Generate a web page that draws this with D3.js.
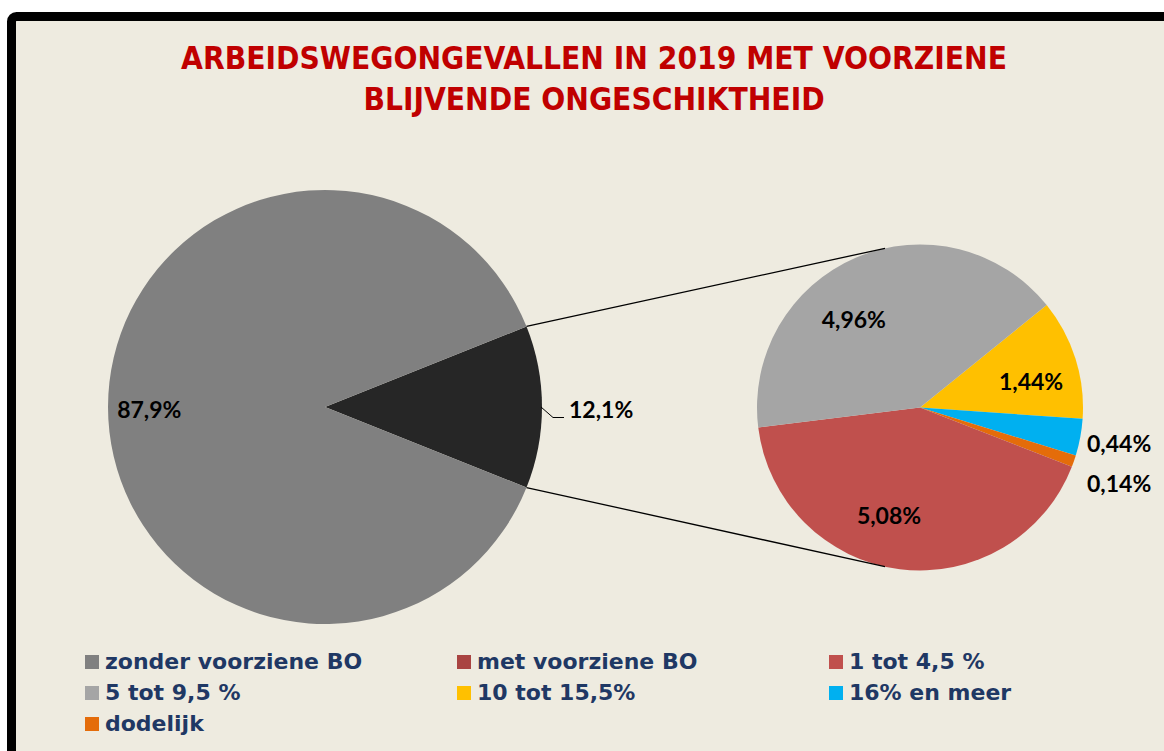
<!DOCTYPE html>
<html>
<head>
<meta charset="utf-8">
<script src="https://cdn.jsdelivr.net/npm/d3@7"></script>
<style>
  html, body { margin: 0; padding: 0; background: #ffffff; overflow: hidden; }
  svg { display: block; }
</style>
</head>
<body>
<div id="chart"></div>
<script>
// main pie
var mainNames = ["met voorziene BO", "zonder voorziene BO"];
var mainValues = [12.1, 87.9];
var mainLabels = ["12,1%", "87,9%"];

// second pie (split of "met voorziene BO")
var subNames = ["10 tot 15,5%", "16% en meer", "dodelijk", "1 tot 4,5 %", "5 tot 9,5 %"];
var subValues = [1.44, 0.44, 0.14, 5.08, 4.96];
var subLabels = ["1,44%", "0,44%", "0,14%", "5,08%", "4,96%"];

// legend order
var legendNames = ["zonder voorziene BO", "met voorziene BO", "1 tot 4,5 %",
                   "5 tot 9,5 %", "10 tot 15,5%", "16% en meer", "dodelijk"];

var titleLines = ["ARBEIDSWEGONGEVALLEN IN 2019 MET VOORZIENE", "BLIJVENDE ONGESCHIKTHEID"];

var colors = {
  "zonder voorziene BO": "#808080",
  "met voorziene BO": "#262626",
  "1 tot 4,5 %": "#C0504D",
  "5 tot 9,5 %": "#A5A5A5",
  "10 tot 15,5%": "#FFC000",
  "16% en meer": "#00B0F0",
  "dodelijk": "#E46C0A"
};
var legendColors = Object.assign({}, colors, {"met voorziene BO": "#A94442"});

var svgWidth = 1164, svgHeight = 751;
var rad = Math.PI / 180;

var svg = d3.select("#chart").append("svg")
  .attr("width", svgWidth)
  .attr("height", svgHeight);

// chart frame
svg.append("rect")
  .attr("x", 11.5).attr("y", 16.5)
  .attr("width", 1250).attr("height", 900)
  .attr("rx", 5)
  .attr("fill", "#EEEBE0")
  .attr("stroke", "#000")
  .attr("stroke-width", 9);

// title
svg.append("g").selectAll("text")
  .data(titleLines)
  .enter().append("text")
  .attr("x", 594)
  .attr("y", (d, i) => 69 + i * 41)
  .attr("text-anchor", "middle")
  .style("font", "bold 31.4px 'DejaVu Sans Condensed', 'DejaVu Sans', sans-serif")
  .attr("fill", "#C00000")
  .text(d => d);

// ---- main pie
var mainC = {x: 325, y: 407, r: 217};
var mainSpan = mainValues[0] / d3.sum(mainValues) * 360;
var mainPie = d3.pie().sort(null)
  .startAngle((90 - mainSpan / 2) * rad)
  .endAngle((450 - mainSpan / 2) * rad);
var mainArcs = mainPie(mainValues);
var mainArc = d3.arc().innerRadius(0).outerRadius(mainC.r);

var mainG = svg.append("g").attr("transform", `translate(${mainC.x},${mainC.y})`);
mainG.selectAll("path")
  .data(mainArcs)
  .enter().append("path")
  .attr("d", mainArc)
  .attr("fill", (d, i) => colors[mainNames[i]]);

// ---- second pie
var subC = {x: 920, y: 407.5, r: 163};
var subPie = d3.pie().sort(null)
  .startAngle(51 * rad)
  .endAngle((51 + 360) * rad);
var subArcs = subPie(subValues);
var subArc = d3.arc().innerRadius(0).outerRadius(subC.r);

var subG = svg.append("g").attr("transform", `translate(${subC.x},${subC.y})`);
subG.selectAll("path")
  .data(subArcs)
  .enter().append("path")
  .attr("d", subArc)
  .attr("fill", (d, i) => colors[subNames[i]]);

// connector lines from the black slice to the second pie
function polar(c, r, a) {
  return [c.x + r * Math.sin(a), c.y - r * Math.cos(a)];
}
var joinAngle = 12.4 * rad;
var conn = [
  [polar(mainC, mainC.r, mainArcs[0].startAngle), polar(subC, subC.r, -joinAngle)],
  [polar(mainC, mainC.r, mainArcs[0].endAngle), polar(subC, subC.r, Math.PI + joinAngle)]
];
svg.append("g").selectAll("line")
  .data(conn)
  .enter().append("line")
  .attr("x1", d => d[0][0]).attr("y1", d => d[0][1])
  .attr("x2", d => d[1][0]).attr("y2", d => d[1][1])
  .attr("stroke", "#000")
  .attr("stroke-width", 1.3);

// ---- data labels
var labelFont = "bold 23px Lato, 'Open Sans', sans-serif";

// angle (deg) and radius (fraction) for labels inside slices
var mainLabelPos = [null, [269, 0.81]];
var subLabelPos = [[76.8, 0.70], null, null, [196, 0.69], [323, 0.675]];

mainG.selectAll("text.lbl")
  .data(mainArcs.filter((d, i) => mainLabelPos[i]))
  .enter().append("text")
  .attr("class", "lbl")
  .attr("x", d => mainC.r * mainLabelPos[d.index][1] * Math.sin(mainLabelPos[d.index][0] * rad))
  .attr("y", d => -mainC.r * mainLabelPos[d.index][1] * Math.cos(mainLabelPos[d.index][0] * rad))
  .attr("dy", "0.36em")
  .attr("text-anchor", "middle")
  .style("font", labelFont)
  .text(d => mainLabels[d.index]);

// 12,1% with leader line
var edge = polar(mainC, mainC.r - 1, (mainArcs[0].startAngle + mainArcs[0].endAngle) / 2);
svg.append("path")
  .attr("d", `M${edge[0]},${edge[1]}L${edge[0] + 12},${edge[1] + 10.5}L${edge[0] + 23},${edge[1] + 10.5}`)
  .attr("fill", "none")
  .attr("stroke", "#000")
  .attr("stroke-width", 1);
svg.append("text")
  .attr("x", edge[0] + 28)
  .attr("y", edge[1] + 3)
  .attr("dy", "0.36em")
  .style("font", labelFont)
  .text(mainLabels[0]);

subG.selectAll("text.lbl")
  .data(subArcs.filter((d, i) => subLabelPos[i]))
  .enter().append("text")
  .attr("class", "lbl")
  .attr("x", d => subC.r * subLabelPos[d.index][1] * Math.sin(subLabelPos[d.index][0] * rad))
  .attr("y", d => -subC.r * subLabelPos[d.index][1] * Math.cos(subLabelPos[d.index][0] * rad))
  .attr("dy", "0.36em")
  .attr("text-anchor", "middle")
  .style("font", labelFont)
  .text(d => subLabels[d.index]);

// small slices: labels stacked outside at the right
var outside = subArcs.filter((d, i) => !subLabelPos[i]);
subG.selectAll("text.out")
  .data(outside)
  .enter().append("text")
  .attr("class", "out")
  .attr("x", subC.r + 4)
  .attr("y", (d, i) => 36 + i * 40)
  .attr("dy", "0.36em")
  .style("font", labelFont)
  .text(d => subLabels[d.index]);

// ---- legend
var legend = svg.append("g").attr("transform", "translate(85,655)");
var legendItem = legend.selectAll("g")
  .data(legendNames)
  .enter().append("g")
  .attr("transform", (d, i) => `translate(${[0, 372, 744][i % 3]},${Math.floor(i / 3) * 31})`);

legendItem.append("rect")
  .attr("width", 14).attr("height", 14)
  .attr("fill", d => legendColors[d]);

legendItem.append("text")
  .attr("x", 20)
  .attr("y", 14)
  .style("font", "bold 22px 'DejaVu Sans', sans-serif")
  .attr("fill", "#1F3864")
  .text(d => d);
</script>
</body>
</html>
